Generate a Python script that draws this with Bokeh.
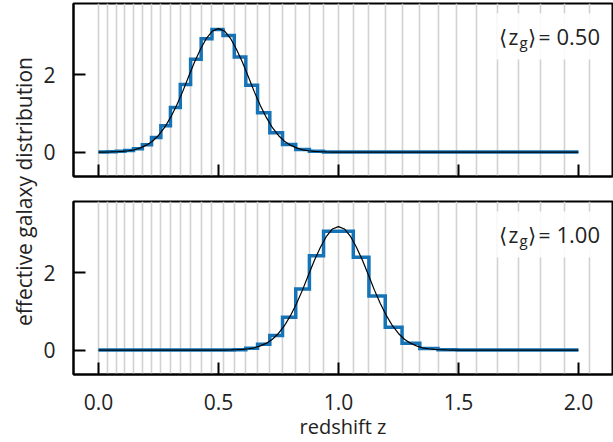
import numpy as np
from bokeh.plotting import figure
from bokeh.layouts import row, column
from bokeh.models import Range1d, FixedTicker, PrintfTickFormatter, BoxAnnotation, ColumnDataSource
from bokeh.core.properties import value
from bokeh.embed import file_html
from bokeh.resources import INLINE

# ---------------- data ----------------
bin_edges = [0.000, 0.037, 0.074, 0.110, 0.146, 0.183, 0.221, 0.260, 0.300, 0.341,
             0.384, 0.428, 0.473, 0.519, 0.566, 0.614, 0.663, 0.714, 0.767, 0.822,
             0.879, 0.938, 0.999, 1.062, 1.127, 1.195, 1.265, 1.339, 1.415, 1.494,
             1.576, 1.661, 1.750, 1.844, 1.944, 2.048]

nz_binned_050 = [0.00, 0.01, 0.02, 0.04, 0.09, 0.19, 0.38, 0.68, 1.15, 1.75,
                 2.40, 2.93, 3.17, 3.01, 2.46, 1.73, 1.02, 0.50, 0.20, 0.07,
                 0.02, 0.00, 0.00, 0.00, 0.00, 0.00, 0.00, 0.00, 0.00, 0.00,
                 0.00, 0.00, 0.00, 0.00, 0.00]

nz_binned_100 = [0.00, 0.00, 0.00, 0.00, 0.00, 0.00, 0.00, 0.00, 0.00, 0.00,
                 0.00, 0.00, 0.00, 0.00, 0.01, 0.05, 0.15, 0.38, 0.85, 1.58,
                 2.44, 3.07, 3.07, 2.40, 1.40, 0.59, 0.18, 0.04, 0.01, 0.00,
                 0.00, 0.00, 0.00, 0.00, 0.00]

# smooth curve: offsets from the mean redshift and curve heights
curve_offsets = [-0.500, -0.475, -0.450, -0.425, -0.400, -0.375, -0.350, -0.325, -0.300,
                 -0.275, -0.250, -0.225, -0.200, -0.175, -0.150, -0.125, -0.100, -0.075,
                 -0.050, -0.025, 0.000, 0.025, 0.050, 0.075, 0.100, 0.125, 0.150, 0.175,
                 0.200, 0.225, 0.250, 0.275, 0.300, 0.325, 0.350, 0.375, 0.400, 0.425,
                 0.450, 0.475, 0.500]
curve_values = [0.000, 0.002, 0.005, 0.010, 0.020, 0.035, 0.060, 0.110, 0.180, 0.280,
                0.430, 0.630, 0.890, 1.200, 1.550, 1.940, 2.320, 2.660, 2.940, 3.130,
                3.190, 3.130, 2.940, 2.660, 2.320, 1.940, 1.550, 1.200, 0.890, 0.630,
                0.430, 0.280, 0.180, 0.110, 0.060, 0.035, 0.020, 0.010, 0.005, 0.002,
                0.000]

mean_z = [0.50, 1.00]
mean_labels = ["0.50", "1.00"]
x_ticks = [0.0, 0.5, 1.0, 1.5, 2.0]
y_ticks = [0, 2]
z_start, z_end = 0.0, 2.0

# ---------------- styling ----------------
FONT = "Open Sans"
TXT = "#222222"
BLUE = "#1674b6"
GRAY = "#d2d2d2"
FS = "21px"
LABW = 40


def make_panel(binned, mean, label, bottom):
    p = figure(frame_width=539, frame_height=173,
               x_range=Range1d(-0.104, 2.142), y_range=Range1d(-0.63, 3.84),
               output_backend="svg", toolbar_location=None,
               min_border_left=72 - LABW, min_border_right=2,
               min_border_top=13 if bottom else 3,
               min_border_bottom=68 if bottom else 12,
               background_fill_color="white", border_fill_color="white",
               outline_line_color="black", outline_line_width=2)
    p.xgrid.visible = False
    p.ygrid.visible = False

    # bin edges
    p.vspan(x=bin_edges, line_color=GRAY, line_width=1.6)

    # binned step line
    xs = [e for e in bin_edges if e < z_end] + [z_end]
    ys = list(binned[:len(xs) - 1]) + [binned[len(xs) - 2]]
    p.step(xs, ys, mode="after", line_color=BLUE, line_width=3.5, line_join="miter")

    # smooth curve
    cz = [z_start] + [mean + o for o in curve_offsets] + [z_end]
    cv = [0.0] + curve_values + [0.0]
    pts = sorted(zip(cz, cv))
    p.line([a for a, b in pts], [b for a, b in pts], line_color="black", line_width=1.2)

    # label box
    p.add_layout(BoxAnnotation(left=1.658, right=2.125, bottom=2.39, top=3.58,
                               fill_color="white", fill_alpha=0.88, line_color=None))
    src = ColumnDataSource(dict(
        x=[1.667] * 6, y=[2.97] * 6,
        t=["⟨", "z", "g", "⟩", "=", label],
        dx=[0, 10, 21, 29, 40, 58],
        dy=[0, 0, 5, 0, 0, 0],
        fs=["21px", "21px", "15px", "21px", "21px", "22px"]))
    p.text(x="x", y="y", text="t", x_offset="dx", y_offset="dy", source=src,
           text_font_size="fs", text_font=value(FONT), text_color=TXT,
           text_align="left", text_baseline="alphabetic", level="overlay")

    # axes
    for ax in (p.xaxis[0], p.yaxis[0]):
        ax.axis_line_color = "black"
        ax.axis_line_width = 2
        ax.major_tick_line_color = "black"
        ax.major_tick_line_width = 2
        ax.major_tick_in = 12
        ax.major_tick_out = 0
        ax.minor_tick_line_color = None
        ax.major_label_text_font = FONT
        ax.major_label_text_color = TXT
        ax.major_label_text_font_size = FS
    p.xaxis.ticker = FixedTicker(ticks=x_ticks)
    p.xaxis.formatter = PrintfTickFormatter(format="%.1f")
    p.yaxis.ticker = FixedTicker(ticks=y_ticks)
    p.yaxis.formatter = PrintfTickFormatter(format="%d")
    p.yaxis.major_label_standoff = 18
    if bottom:
        p.xaxis.major_label_standoff = 19
        p.xaxis.axis_label = "redshift z"
        p.xaxis.axis_label_standoff = 0
        p.xaxis.axis_label_text_font = FONT
        p.xaxis.axis_label_text_font_style = "normal"
        p.xaxis.axis_label_text_font_size = "20px"
        p.xaxis.axis_label_text_color = TXT
    else:
        p.xaxis.major_label_text_color = None
        p.xaxis.major_label_text_font_size = "1px"
        p.xaxis.major_label_standoff = 0
    return p


top = make_panel(nz_binned_050, mean_z[0], mean_labels[0], False)
bot = make_panel(nz_binned_100, mean_z[1], mean_labels[1], True)

ylab = figure(width=LABW, height=442, x_range=Range1d(0, 1), y_range=Range1d(0, 1),
              x_axis_location=None, y_axis_location=None, min_border=0,
              output_backend="svg", toolbar_location=None, outline_line_color=None,
              background_fill_color="white", border_fill_color="white")
ylab.xgrid.visible = False
ylab.ygrid.visible = False
ylab.text(x=[23 / LABW], y=[1 - 191 / 442], text=["effective galaxy distribution"],
          angle=np.pi / 2, text_align="center", text_baseline="middle",
          text_font=value(FONT), text_font_size=FS, text_color=TXT)

layout = row(ylab, column(top, bot, spacing=0), spacing=0)

open("out.html", "w").write(file_html(layout, INLINE))
